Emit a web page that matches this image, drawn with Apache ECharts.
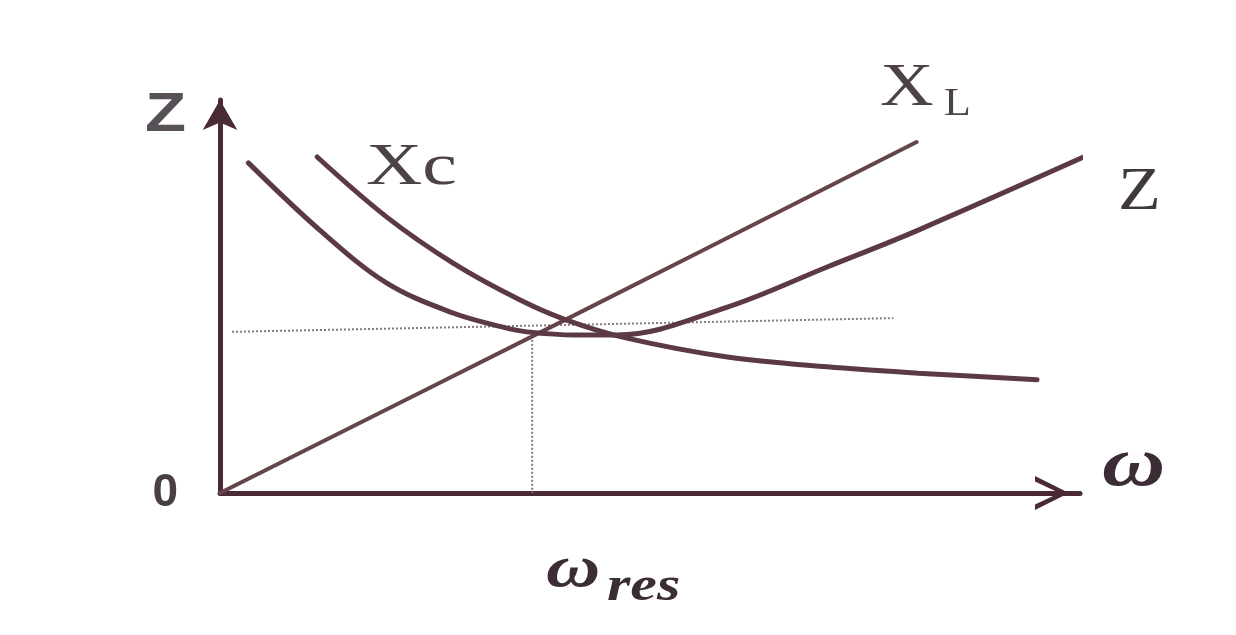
<!DOCTYPE html>
<html>
<head>
<meta charset="utf-8">
<script src="https://cdn.jsdelivr.net/npm/echarts@6/dist/echarts.min.js"></script>
<style>
html, body { margin: 0; padding: 0; background: #fff; }
#main { width: 1236px; height: 635px; }
</style>
</head>
<body>
<div id="main"></div>
<script>
// points, [omega, impedance] in arbitrary units
var xlData = [[0, 0], [3.99, 4.38], [8.10, 8.93]];
var zData = [
    [0.33, 8.40], [1.16, 6.69], [1.94, 5.34], [2.71, 4.58], [3.29, 4.22], [3.57, 4.10],
    [4.13, 4.02], [4.62, 4.02], [5.90, 4.73], [7.06, 5.75], [8.12, 6.69], [10.35, 8.85]
];
var xcData = [
    [1.13, 8.55], [1.94, 7.02], [2.71, 5.85], [3.49, 4.91], [4.03, 4.40],
    [4.73, 3.94], [5.90, 3.46], [7.06, 3.21], [8.12, 3.05], [9.50, 2.88]
];
var resHLine = [[0.14, 4.10], [7.83, 4.45]];
var resVLine = [[3.63, 4.10], [3.63, 0]];

var ink = '#5c3a44';
var axisInk = '#4a2a35';
var chart = echarts.init(document.getElementById('main'));

function curve(name, data, width, color) {
    return {
        name: name,
        type: 'line',
        data: data,
        smooth: 0.35,
        symbol: 'none',
        clip: false,
        lineStyle: { color: color, width: width, cap: 'round' }
    };
}
function dotted(data) {
    return {
        type: 'line',
        data: data,
        symbol: 'none',
        silent: true,
        lineStyle: { color: '#857a80', width: 2, type: 'dotted' }
    };
}

var serif = '"Liberation Serif", "DejaVu Serif", serif';
var option = {
    backgroundColor: '#fff',
    animation: false,
    grid: { left: 220, right: 156, top: 100, bottom: 142 },
    xAxis: {
        type: 'value',
        min: 0,
        max: 10,
        splitLine: { show: false },
        axisTick: { show: false },
        axisLabel: { show: false },
        axisLine: {
            lineStyle: { color: axisInk, width: 5 },
            symbol: ['none', 'path://M5,0 L10,10 L8.4,10 L5,2.8 L1.6,10 L0,10 Z'],
            symbolSize: [34, 56],
            symbolOffset: [0, -28]
        }
    },
    yAxis: {
        type: 'value',
        min: 0,
        max: 10,
        interval: 5,
        splitLine: { show: false },
        axisTick: { show: false },
        axisLabel: {
            margin: 42,
            fontSize: 46,
            fontWeight: 'bold',
            fontFamily: '"Liberation Sans", Arial, sans-serif',
            color: '#4a3f45',
            formatter: function (v) { return v === 0 ? '0' : ''; }
        },
        axisLine: {
            lineStyle: { color: axisInk, width: 5 },
            symbol: ['none', 'arrow'],
            symbolSize: [26, 30],
            symbolOffset: [0, 0]
        }
    },
    series: [
        dotted(resHLine),
        dotted(resVLine),
        curve('XL', xlData, 4, '#654548'),
        curve('Xc', xcData, 5, ink),
        curve('Z', zData, 5, ink)
    ],
    graphic: [
        { type: 'text', x: 145, y: 116, scaleX: 1.2,
          style: { text: 'Z', font: 'bold 56px "Liberation Sans", Arial, sans-serif', fill: '#575057', textVerticalAlign: 'middle' } },
        { type: 'text', x: 366, y: 168, scaleX: 1.3,
          style: { text: 'Xc', font: '60px ' + serif, fill: '#4d4347', textVerticalAlign: 'middle' } },
        { type: 'text', x: 880, y: 89, scaleX: 1.2,
          style: { text: 'X', font: '62px ' + serif, fill: '#4d4347', textVerticalAlign: 'middle' } },
        { type: 'text', x: 944, y: 104, scaleX: 1.1,
          style: { text: 'L', font: '40px ' + serif, fill: '#4d4347', textVerticalAlign: 'middle' } },
        { type: 'text', x: 1118, y: 193, scaleX: 1.13,
          style: { text: 'Z', font: '62px ' + serif, fill: '#3f393d', textVerticalAlign: 'middle' } },
        { type: 'text', x: 1102, y: 467, scaleX: 1.25,
          style: { text: 'ω', font: 'italic bold 70px ' + serif, fill: '#3b2c36', textVerticalAlign: 'middle' } },
        { type: 'text', x: 546, y: 570, scaleX: 1.25,
          style: { text: 'ω', font: 'italic bold 60px ' + serif, fill: '#3b2c36', textVerticalAlign: 'middle' } },
        { type: 'text', x: 607, y: 588, scaleX: 1.25,
          style: { text: 'res', font: 'italic bold 48px ' + serif, fill: '#3b2c36', textVerticalAlign: 'middle' } }
    ]
};
chart.setOption(option);
</script>
</body>
</html>
